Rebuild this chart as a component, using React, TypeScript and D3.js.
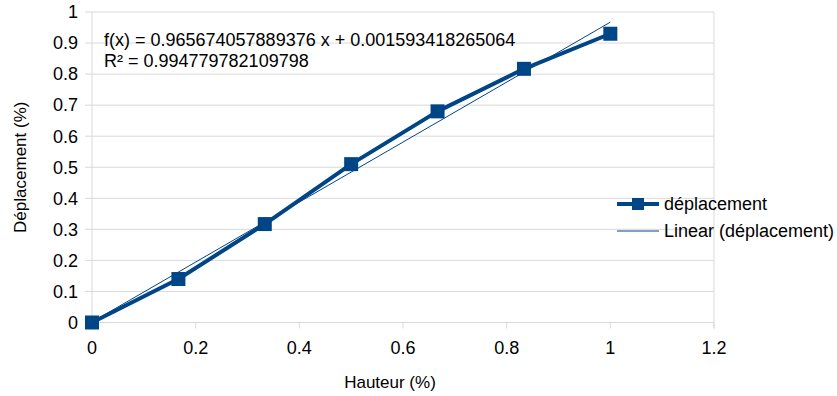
import React from "react";
import * as d3 from "d3";

const hauteur = [0, 1 / 6, 2 / 6, 3 / 6, 4 / 6, 5 / 6, 1];
const deplacement = [0, 0.14, 0.317, 0.51, 0.68, 0.817, 0.93];
const xTicks = [0, 0.2, 0.4, 0.6, 0.8, 1, 1.2];
const yTicks = [0, 0.1, 0.2, 0.3, 0.4, 0.5, 0.6, 0.7, 0.8, 0.9, 1];
const slope = 0.965674057889376;
const intercept = 0.001593418265064;
const eqLabel = "f(x) = 0.965674057889376 x + 0.001593418265064";
const r2Label = "R² = 0.994779782109798";
const seriesName = "déplacement";
const trendName = "Linear (déplacement)";
const xTitle = "Hauteur (%)";
const yTitle = "Déplacement (%)";

const W = 837, H = 396;
const left = 92, right = 714, top = 12, bottom = 322.5;
const color = "#004586";
const font = "'Liberation Sans', Arial, sans-serif";

export default function App() {
  const x = d3.scaleLinear().domain([0, 1.2]).range([left, right]);
  const y = d3.scaleLinear().domain([0, 1]).range([bottom, top]);
  const pts = hauteur.map((h, i) => [h, deplacement[i]] as [number, number]);
  const line = d3.line<[number, number]>().x(d => x(d[0])).y(d => y(d[1]));
  const trend: [number, number][] = [[0, intercept], [1, slope + intercept]];
  const ms = 14;
  return (
    <svg width={W} height={H} style={{ position: "absolute", left: 0, top: 0 }} fontFamily={font}>
      <rect width={W} height={H} fill="#fff" />
      {yTicks.map(t => (
        <g key={t}>
          <line x1={left - 7} x2={right} y1={y(t)} y2={y(t)} stroke="#d9d9d9" strokeWidth={1} />
          <text x={78} y={y(t)} dy="0.35em" textAnchor="end" fontSize={18} fill="#000">{t}</text>
        </g>
      ))}
      <line x1={left} x2={left} y1={top} y2={bottom} stroke="#d9d9d9" />
      <line x1={right} x2={right} y1={top} y2={bottom + 6} stroke="#d9d9d9" />
      {xTicks.map(t => (
        <g key={t}>
          <line x1={x(t)} x2={x(t)} y1={bottom} y2={bottom + 6} stroke="#d9d9d9" />
          <text x={x(t)} y={348} dy="0.35em" textAnchor="middle" fontSize={18} fill="#000">{t}</text>
        </g>
      ))}
      <path d={line(trend) || ""} fill="none" stroke={color} strokeWidth={1} />
      <path d={line(pts) || ""} fill="none" stroke={color} strokeWidth={4} strokeLinejoin="round" />
      {pts.map((p, i) => (
        <rect key={i} x={x(p[0]) - ms / 2} y={y(p[1]) - ms / 2} width={ms} height={ms} fill={color} />
      ))}
      <text x={104} y={40} dy="0.35em" fontSize={18} fill="#000">{eqLabel}</text>
      <text x={104} y={61} dy="0.35em" fontSize={18} fill="#000">{r2Label}</text>
      <text x={390} y={382} dy="0.35em" textAnchor="middle" fontSize={17} fill="#000">{xTitle}</text>
      <text transform={`translate(20,${(top + bottom) / 2}) rotate(-90)`} dy="0.35em" textAnchor="middle" fontSize={17} fill="#000">{yTitle}</text>
      <line x1={617} x2={659} y1={204} y2={204} stroke={color} strokeWidth={4} />
      <rect x={638 - 6} y={204 - 6} width={12} height={12} fill={color} />
      <text x={664} y={204} dy="0.35em" fontSize={18} fill="#000">{seriesName}</text>
      <line x1={617} x2={659} y1={231} y2={231} stroke={color} strokeWidth={1} />
      <text x={664} y={231} dy="0.35em" fontSize={18} fill="#000">{trendName}</text>
    </svg>
  );
}
